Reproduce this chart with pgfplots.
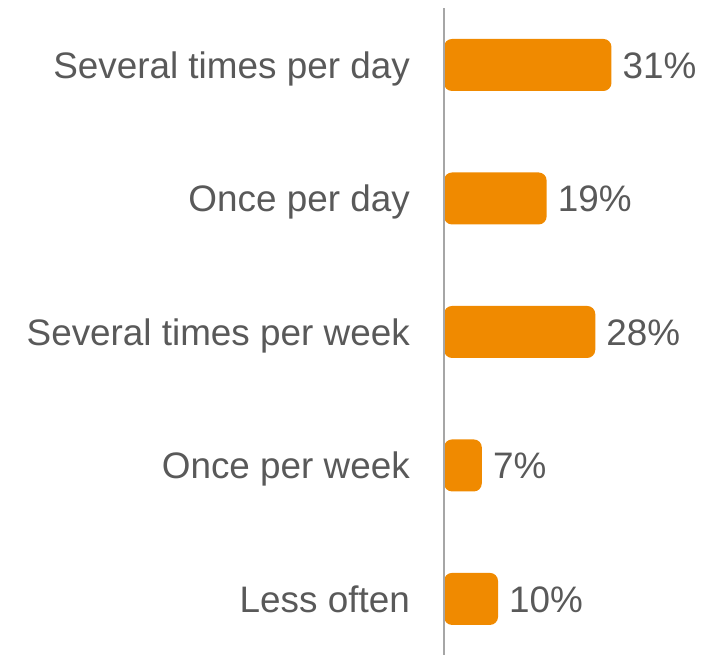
\documentclass[border=0pt]{standalone}
\usepackage{pgfplots}
\pgfplotsset{compat=1.18}
\usepackage{fontspec}
\setmainfont{Liberation Sans}
\definecolor{barc}{HTML}{F08A00}
\definecolor{txt}{HTML}{595959}
\definecolor{axc}{HTML}{A6A6A6}
\begin{document}
\begin{tikzpicture}
\begin{axis}[
  at={(0,0)}, anchor=south west,
  scale only axis, width=262bp, height=647bp,
  xmin=0, xmax=48.5, ymin=-0.42, ymax=4.427,
  xbar, bar width=52bp,
  axis line style={draw=none},
  major tick length=0pt,
  xtick=\empty,
  ytick={0,1,2,3,4},
  yticklabels={Less often, Once per week, Several times per week, Once per day, Several times per day},
  yticklabel style={font=\fontsize{37}{40}\selectfont, text=txt, inner sep=0pt, anchor=east, xshift=-34bp, text height=27bp, text depth=0pt},
  /pgf/number format/assume math mode=true,
  nodes near coords={\pgfmathprintnumber{\pgfplotspointmeta}\%},
  nodes near coords style={font=\fontsize{37}{40}\selectfont, text=txt, inner sep=0pt, anchor=west, xshift=11bp, text height=27bp, text depth=0pt},
  clip=false,
]
\addplot[fill=barc, draw=none, rounded corners=8bp] coordinates {
  (10,0) (7,1) (28,2) (19,3) (31,4)
};
\draw[axc, line width=1.3bp] (axis cs:0,-0.42) -- (axis cs:0,4.427);
\end{axis}
\pgfresetboundingbox
\path (-444bp,0bp) rectangle (262bp,655bp);
\end{tikzpicture}
\end{document}
